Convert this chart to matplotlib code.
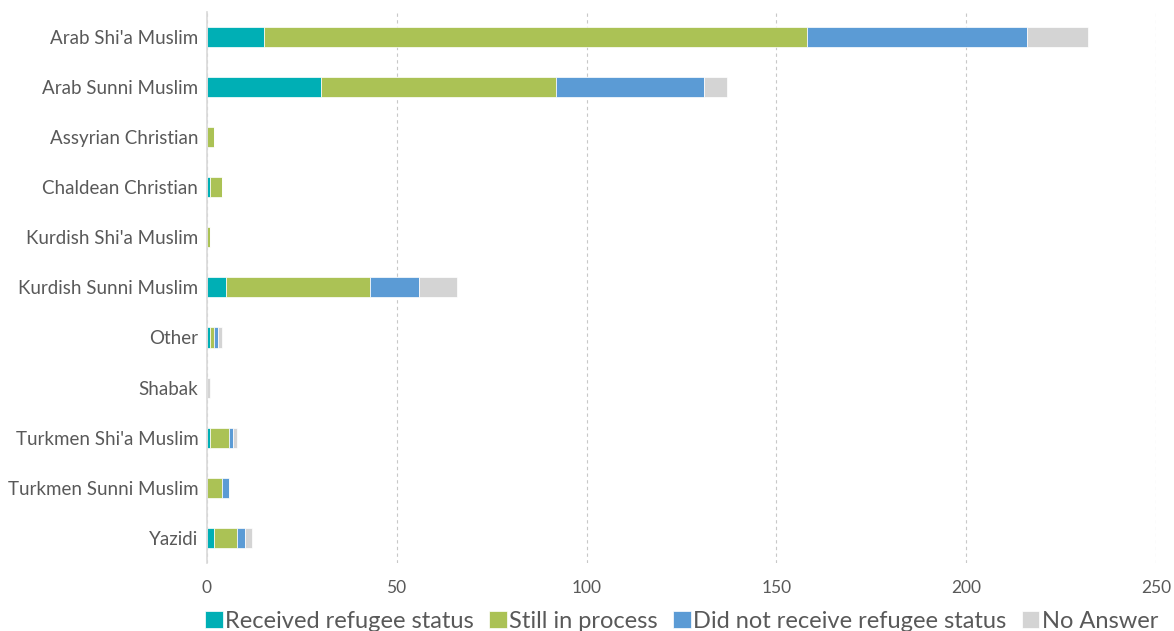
import matplotlib.pyplot as plt
import numpy as np

plt.rcParams['font.family'] = ['Lato', 'DejaVu Sans']

categories = ["Arab Shi'a Muslim", "Arab Sunni Muslim", "Assyrian Christian",
              "Chaldean Christian", "Kurdish Shi'a Muslim", "Kurdish Sunni Muslim",
              "Other", "Shabak", "Turkmen Shi'a Muslim", "Turkmen Sunni Muslim", "Yazidi"]

received = [15, 30, 0, 1, 0, 5, 1, 0, 1, 0, 2]
in_process = [143, 62, 2, 3, 1, 38, 1, 0, 5, 4, 6]
not_received = [58, 39, 0, 0, 0, 13, 1, 0, 1, 2, 2]
no_answer = [16, 6, 0, 0, 0, 10, 1, 1, 1, 0, 2]

series = [("Received refugee status", received, "#00AFB5"),
          ("Still in process", in_process, "#ABC255"),
          ("Did not receive refugee status", not_received, "#5B9BD5"),
          ("No Answer", no_answer, "#D4D4D4")]

fig = plt.figure(figsize=(11.74, 6.31), dpi=100)
ax = fig.add_axes([0.176, 0.108, 0.809, 0.873])

y = np.arange(len(categories))
left = np.zeros(len(categories))
for name, vals, col in series:
    ax.barh(y, vals, left=left, height=0.4, color=col, label=name,
            edgecolor='white', linewidth=0.5)
    left += np.array(vals)

ax.set_ylim(len(categories) - 0.5, -0.5)
ax.set_yticks(y)
ax.set_yticklabels(categories)
ax.set_xlim(0, 250)
ax.set_xticks(range(0, 251, 50))
ax.tick_params(axis='y', length=0, labelsize=13.5, colors='#595959', pad=6)
ax.tick_params(axis='x', length=0, labelsize=12.5, colors='#595959', pad=12)

ax.grid(axis='x', color='#C8C8C8', linestyle=(0, (3, 3)), linewidth=0.8)
ax.set_axisbelow(True)
for s in ['top', 'right', 'bottom']:
    ax.spines[s].set_visible(False)
ax.spines['left'].set_color('#D9D9D9')
ax.spines['left'].set_linewidth(1.2)

leg = fig.legend(loc='lower center', bbox_to_anchor=(0.5805, -0.035), ncol=4,
                 frameon=False, fontsize=17, handlelength=0.75, handleheight=0.75,
                 handletextpad=0.1, columnspacing=0.65, labelcolor='#595959')

fig.savefig("out.png", dpi=100)
